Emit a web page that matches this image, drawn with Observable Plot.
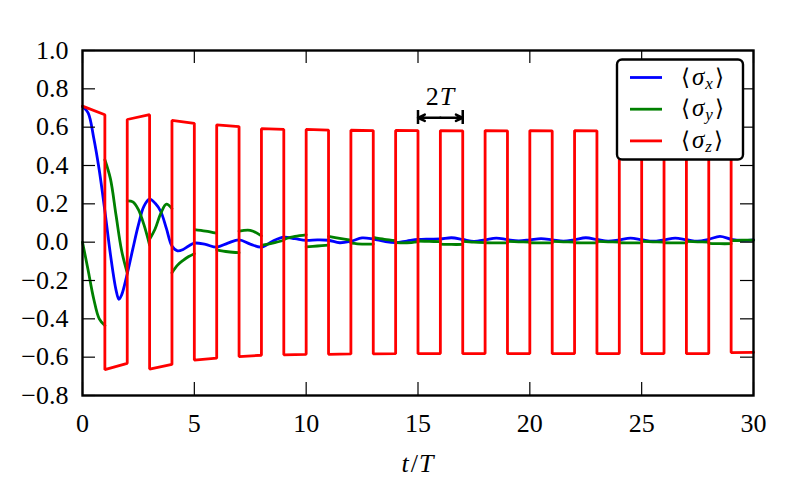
<!DOCTYPE html>
<html><head><meta charset="utf-8">
<script src="https://cdn.jsdelivr.net/npm/d3@7"></script>
<script src="https://cdn.jsdelivr.net/npm/@observablehq/plot@0.6"></script>
<style>html,body{margin:0;padding:0;background:#fff;} svg{display:block}</style>
</head><body><div id="chart"></div>
<script>
// ---- data ----
const xTicks = [0, 5, 10, 15, 20, 25, 30];
const yTicks = [-0.8, -0.6, -0.4, -0.2, 0, 0.2, 0.4, 0.6, 0.8, 1.0];
const seriesNames = ["x", "y", "z"];
const seriesColors = ["#0000ff", "#008000", "#ff0000"];

// <sigma_x> (continuous)
const sigmaXTime = [0, 0.25, 0.5, 0.75, 1.0, 1.25, 1.5, 1.625, 1.75, 2.0, 2.25, 2.5, 2.75, 3.0, 3.25, 3.5, 3.75, 4.0, 4.25, 4.5, 4.75, 5.0,
  5.5, 6.0, 6.5, 7.0, 7.5, 8.0, 8.5, 9.0, 9.5, 10.0, 10.5, 11.0, 11.5, 12.0, 12.5, 13.0, 13.5, 14.0, 14.5, 15.0,
  15.5, 16.0, 16.5, 17.0, 17.5, 18.0, 18.5, 19.0, 19.5, 20.0, 20.5, 21.0, 21.5, 22.0, 22.5, 23.0, 23.5, 24.0,
  24.5, 25.0, 25.5, 26.0, 26.5, 27.0, 27.5, 28.0, 28.5, 29.0, 29.5, 30.0];
const sigmaX = [0.707, 0.675, 0.545, 0.375, 0.163, -0.065, -0.25, -0.298, -0.275, -0.165, -0.035, 0.09, 0.188, 0.224, 0.203, 0.16, 0.072, -0.02, -0.045, -0.038, -0.02, -0.005,
  -0.012, -0.026, -0.005, 0.012, -0.01, -0.026, 0.005, 0.026, 0.018, 0.009, 0.012, 0.01, -0.003, 0.005, 0.022, 0.016, 0.004, -0.002, 0.006, 0.014,
  0.016, 0.017, 0.023, 0.014, 0.004, 0.012, 0.021, 0.013, 0.007, 0.012, 0.018, 0.012, 0.005, 0.012, 0.023, 0.014, 0.005, 0.012,
  0.021, 0.013, 0.005, 0.012, 0.021, 0.013, 0.005, 0.015, 0.03, 0.015, 0.009, 0.012];

// <sigma_y>: one list per period interval [k, k+1], evenly sampled inside it
const sigmaYSegments = [
  [0.0, -0.145, -0.295, -0.40, -0.435],
  [0.43, 0.33, 0.14, -0.045, -0.16],
  [0.215, 0.21, 0.17, 0.09, -0.015],
  [0.015, 0.07, 0.15, 0.198, 0.175],
  [-0.16, -0.12, -0.095, -0.075, -0.06],
  [0.066, 0.058, 0.047],
  [-0.04, -0.05, -0.055],
  [0.057, 0.062, 0.033],
  [-0.017, -0.005, 0.01],
  [0.015, 0.03, 0.038],
  [-0.025, -0.02, -0.015],
  [0.03, 0.02, 0.01],
  [-0.005, -0.01, -0.01],
  [0.025, 0.015, 0.008],
  [-0.002, -0.003, 0.002],
  [0.006, 0.004, 0.003],
  [-0.01, -0.012, -0.012],
  [0.004, 0.0, -0.002],
  [-0.003, -0.004, -0.004],
  [0.004, 0.002, 0.0],
  [-0.003, -0.004, -0.004],
  [0.004, 0.002, 0.0],
  [-0.003, -0.004, -0.004],
  [0.004, 0.002, 0.0],
  [-0.003, -0.004, -0.004],
  [0.004, 0.002, 0.0],
  [-0.003, -0.004, -0.004],
  [0.004, 0.002, 0.0],
  [-0.006, -0.008, -0.008],
  [0.008, 0.01, 0.01]
];

// <sigma_z>: value at start and end of each interval [k, k+1]
const sigmaZStart = [0.71, -0.665, 0.64, -0.662, 0.635, -0.615, 0.612, -0.597, 0.592, -0.588,
  0.588, -0.585, 0.584, -0.583, 0.583, -0.582, 0.582, -0.582, 0.582, -0.582,
  0.582, -0.582, 0.582, -0.582, 0.582, -0.582, 0.582, -0.582, 0.582, -0.576];
const sigmaZEnd = [0.665, -0.632, 0.665, -0.638, 0.62, -0.605, 0.603, -0.59, 0.588, -0.585,
  0.585, -0.583, 0.582, -0.582, 0.582, -0.581, 0.581, -0.581, 0.581, -0.581,
  0.581, -0.581, 0.581, -0.581, 0.581, -0.581, 0.581, -0.581, 0.581, -0.575];

const periodMarker = {from: 15, to: 17};

// ---- build tables ----
const blueData = sigmaXTime.map((t, i) => ({t, v: sigmaX[i]}));
const greenData = sigmaYSegments.flatMap((seg, k) => seg.map((v, i) => ({t: k + i / (seg.length - 1), v, seg: k})));
const redData = sigmaZStart.flatMap((s, k) => [{t: k, v: s}, {t: k + 1, v: sigmaZEnd[k]}]);
const mid = (periodMarker.from + periodMarker.to) / 2;
const arrowData = [{x1: mid, x2: periodMarker.from}, {x1: mid, x2: periodMarker.to}];

const W = 800, H = 503, mL = 82, mR = 47, mT = 50, mB = 108;
const plotH = H - mT - mB, plotW = W - mL - mR;
const tickLen = 13;
const font = "Liberation Serif, DejaVu Serif, serif";
const fmt = d => (Math.abs(d) < 1e-9 ? "0.0" : d.toFixed(1)).replace("-", "\u2212");

const plot = Plot.plot({
  width: W, height: H,
  marginLeft: mL, marginRight: mR, marginTop: mT, marginBottom: mB,
  style: {fontFamily: font, background: "#fff", color: "#000"},
  x: {domain: [0, 30]},
  y: {domain: [-0.8, 1.0]},
  marks: [
    Plot.line(blueData, {x: "t", y: "v", stroke: seriesColors[0], strokeWidth: 2.8, curve: "catmull-rom"}),
    Plot.line(greenData, {x: "t", y: "v", z: "seg", stroke: seriesColors[1], strokeWidth: 2.8, curve: "catmull-rom"}),
    Plot.line(redData, {x: "t", y: "v", stroke: seriesColors[2], strokeWidth: 2.8, strokeLinejoin: "miter"}),
    Plot.ruleX(xTicks, {insetTop: plotH - tickLen, stroke: "#000", strokeWidth: 1.2}),
    Plot.ruleX(xTicks, {insetBottom: plotH - tickLen, stroke: "#000", strokeWidth: 1.2}),
    Plot.ruleY(yTicks, {insetRight: plotW - tickLen, stroke: "#000", strokeWidth: 1.2}),
    Plot.ruleY(yTicks, {insetLeft: plotW - tickLen, stroke: "#000", strokeWidth: 1.2}),
    Plot.frame({stroke: "#000", strokeWidth: 2.4}),
    Plot.axisX({ticks: xTicks, tickSize: 0, tickPadding: 18, fontSize: 26, fontFamily: font, tickFormat: d => String(d), label: null}),
    Plot.axisY({ticks: yTicks, tickSize: 0, tickPadding: 14, fontSize: 26, fontFamily: font, tickFormat: fmt, label: null}),
    Plot.ruleX([periodMarker.from, periodMarker.to], {y1: 0.614, y2: 0.687, stroke: "#000", strokeWidth: 2.5}),
    Plot.arrow(arrowData, {x1: "x1", x2: "x2", y1: 0.649, y2: 0.649, stroke: "#000", strokeWidth: 2.5, headAngle: 50, headLength: 9})
  ]
});
document.getElementById("chart").appendChild(plot);

const svg = d3.select(plot);
const sx = plot.scale("x"), sy = plot.scale("y");

// "2T" label
const lbl = svg.append("text")
  .attr("x", sx.apply(mid)).attr("y", sy.apply(0.713))
  .attr("text-anchor", "middle").attr("font-family", font).attr("font-size", 26).attr("fill", "#000");
lbl.append("tspan").text("2");
lbl.append("tspan").attr("font-style", "italic").attr("dx", 1).text("T");

// x axis label t/T
const xl = svg.append("text")
  .attr("x", mL + plotW / 2).attr("y", 472)
  .attr("text-anchor", "middle").attr("font-family", font).attr("font-size", 26).attr("fill", "#000");
xl.append("tspan").attr("font-style", "italic").text("t");
xl.append("tspan").attr("dx", 2).text("/");
xl.append("tspan").attr("font-style", "italic").attr("dx", 1).text("T");

// legend
const lg = svg.append("g");
lg.append("rect").attr("x", 617).attr("y", 59.5).attr("width", 126).attr("height", 100)
  .attr("rx", 5).attr("fill", "#fff").attr("stroke", "#000").attr("stroke-width", 2.4);
seriesNames.forEach((name, i) => {
  const yy = 77.5 + i * 31.7;
  lg.append("line").attr("x1", 630).attr("x2", 662).attr("y1", yy).attr("y2", yy)
    .attr("stroke", seriesColors[i]).attr("stroke-width", 2.8);
  const t = lg.append("text").attr("x", 681).attr("y", yy + 7)
    .attr("text-anchor", "start")
    .attr("font-family", font).attr("font-size", 25).attr("fill", "#000");
  t.append("tspan").attr("font-family", "DejaVu Serif, serif").attr("font-size", 23).text("\u27E8");
  t.append("tspan").attr("font-style", "italic").attr("dx", 2).text("\u03C3");
  t.append("tspan").attr("font-style", "italic").attr("font-size", 17).attr("dy", 4).attr("dx", 1).text(name);
  t.append("tspan").attr("font-family", "DejaVu Serif, serif").attr("font-size", 23).attr("dy", -4).attr("dx", 2).text("\u27E9");
});
</script>
</body></html>
